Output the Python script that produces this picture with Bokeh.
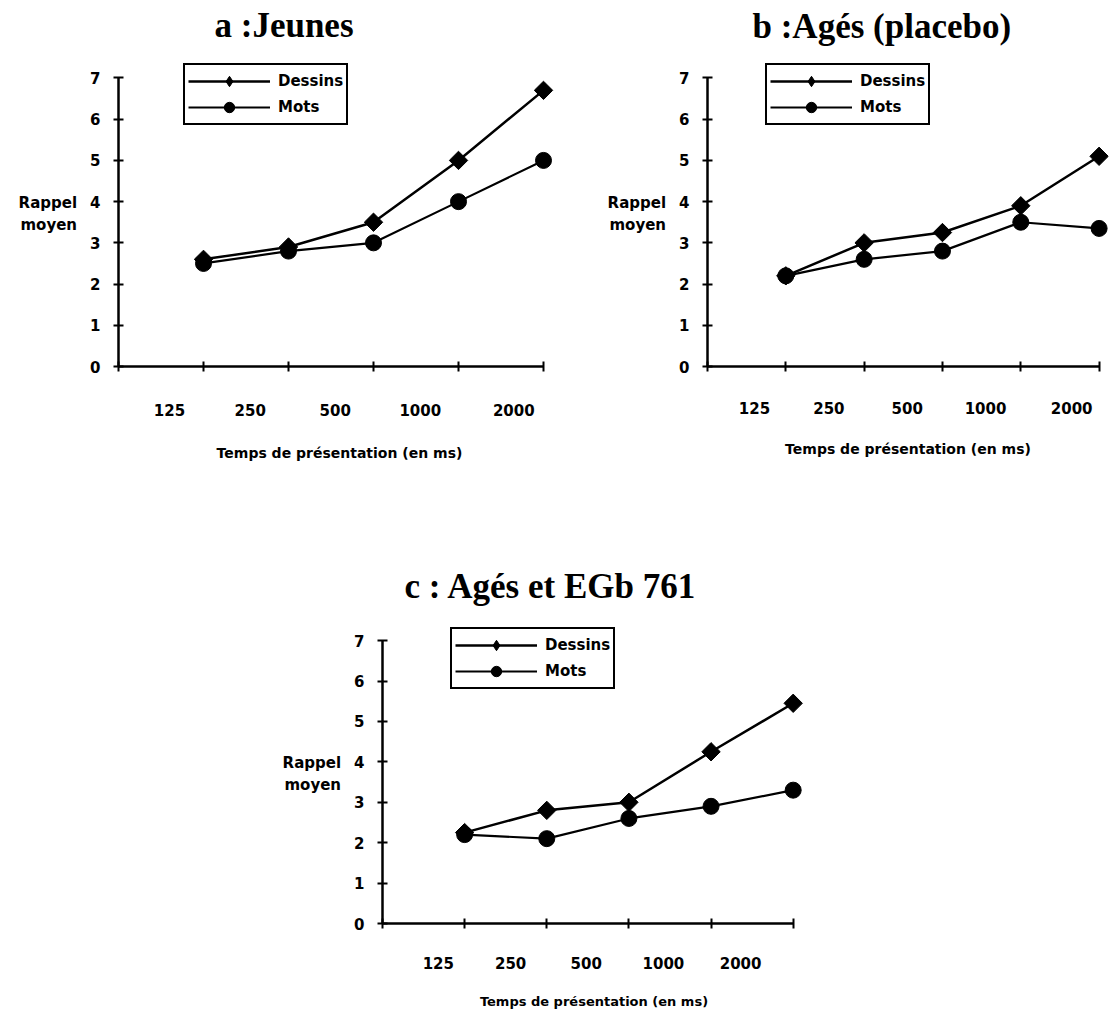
import math
from bokeh.plotting import figure
from bokeh.models import Range1d, FixedTicker, Spacer
from bokeh.layouts import column, row
from bokeh.embed import file_html
from bokeh.resources import INLINE

# ---------------- data ----------------
durations = ["125", "250", "500", "1000", "2000"]
series_names = ["Dessins", "Mots"]
titles = ["a :Jeunes", "b :Agés (placebo)", "c : Agés et EGb 761"]
y_title = "Rappel\nmoyen"
x_title = "Temps de présentation (en ms)"
y_ticks = [0, 1, 2, 3, 4, 5, 6, 7]

jeunes_dessins = [2.6, 2.9, 3.5, 5.0, 6.7]
jeunes_mots = [2.5, 2.8, 3.0, 4.0, 5.0]
placebo_dessins = [2.2, 3.0, 3.25, 3.9, 5.1]
placebo_mots = [2.2, 2.6, 2.8, 3.5, 3.35]
egb_dessins = [2.25, 2.8, 3.0, 4.25, 5.45]
egb_mots = [2.2, 2.1, 2.6, 2.9, 3.3]

x_idx = list(range(1, len(durations) + 1))
bounds_ticks = list(range(0, len(durations) + 1))

FONT = "DejaVu Sans"


def make_panel(title, dessins, mots, width, height, borders, x_end, y_end,
               label_pos, legend_xy, title_offset, title_standoff,
               xlab_standoff, xtitle_standoff, xtitle_size, margin):
    bl, br, bt, bb = borders
    p = figure(width=width, height=height, output_backend="svg",
               toolbar_location=None, x_range=Range1d(0, x_end),
               y_range=Range1d(0, y_end), min_border_left=bl,
               min_border_right=br, min_border_top=bt, min_border_bottom=bb,
               margin=margin)
    p.outline_line_color = None
    p.grid.visible = False
    p.background_fill_color = "white"

    # title
    p.title.text = title
    p.title.align = "left"
    p.title.offset = title_offset
    p.title.standoff = title_standoff
    p.title.text_font = "Liberation Serif"
    p.title.text_font_style = "bold"
    p.title.text_font_size = "35px"
    p.title.text_color = "black"

    # series
    p.line(x_idx, dessins, line_width=2.5, color="black", legend_label=series_names[0])
    p.scatter(x_idx, dessins, marker="diamond", size=14, color="black",
              legend_label=series_names[0])
    p.scatter(x_idx, dessins, marker="square", angle=math.pi / 4, size=13,
              color="black")
    p.line(x_idx, mots, line_width=2.2, color="black", legend_label=series_names[1])
    p.scatter(x_idx, mots, marker="circle", size=16, color="black",
              legend_label=series_names[1])

    # y axis
    ya = p.yaxis[0]
    ya.ticker = FixedTicker(ticks=y_ticks)
    ya.bounds = (0, 7)
    ya.axis_line_width = 2.5
    ya.axis_line_color = "black"
    ya.major_tick_in = 5
    ya.major_tick_out = 5
    ya.major_tick_line_width = 2
    ya.major_tick_line_color = "black"
    ya.minor_tick_line_color = None
    ya.major_label_standoff = 13
    ya.major_label_text_font = FONT
    ya.major_label_text_font_style = "bold"
    ya.major_label_text_font_size = "15px"
    ya.major_label_text_color = "black"
    ya.axis_label = y_title
    ya.axis_label_orientation = "horizontal"
    ya.axis_label_standoff = 10
    ya.axis_label_text_font = FONT
    ya.axis_label_text_font_style = "bold"
    ya.axis_label_text_font_size = "15px"
    ya.axis_label_text_color = "black"

    # x axis: duration labels sit between the tick marks
    xa = p.xaxis[0]
    xa.ticker = FixedTicker(ticks=label_pos, minor_ticks=bounds_ticks)
    xa.major_label_overrides = {pos: lab for pos, lab in zip(label_pos, durations)}
    xa.bounds = (0, len(durations))
    xa.axis_line_width = 2.5
    xa.axis_line_color = "black"
    xa.major_tick_line_color = None
    xa.major_tick_in = 0
    xa.major_tick_out = 0
    xa.minor_tick_in = 5
    xa.minor_tick_out = 5
    xa.minor_tick_line_color = "black"
    xa.minor_tick_line_width = 2
    xa.major_label_standoff = xlab_standoff
    xa.major_label_text_font = FONT
    xa.major_label_text_font_style = "bold"
    xa.major_label_text_font_size = "15px"
    xa.major_label_text_color = "black"
    xa.axis_label = x_title
    xa.axis_label_standoff = xtitle_standoff
    xa.axis_label_text_font = FONT
    xa.axis_label_text_font_style = "bold"
    xa.axis_label_text_font_size = xtitle_size
    xa.axis_label_text_color = "black"

    lg = p.legend[0]
    lg.location = legend_xy
    lg.margin = 0
    lg.padding = 3
    lg.spacing = 0
    lg.border_line_color = "black"
    lg.border_line_alpha = 1.0
    lg.border_line_width = 2
    lg.glyph_width = 82
    lg.glyph_height = 26
    lg.label_height = 26
    lg.label_standoff = 8
    lg.label_text_font = FONT
    lg.label_text_font_style = "bold"
    lg.label_text_font_size = "15px"
    lg.label_text_color = "black"
    lg.background_fill_alpha = 1.0
    return p


pa = make_panel(titles[0], jeunes_dessins, jeunes_mots, 600, 517,
                (118, 40, 91, 120), 5.2, 7.4,
                [0.6, 1.55, 2.55, 3.55, 4.65], (65, 241), 96, 33,
                32, 26, "14px", (-30, 0, 0, 0))
pb = make_panel(titles[1], placebo_dessins, placebo_mots, 514, 517,
                (107, 6, 88, 121), 5.12, 7.4,
                [0.6, 1.55, 2.55, 3.55, 4.65], (58, 241), 45, 31,
                30, 24, "14px", (-30, 0, 0, 0))
pc = make_panel(titles[2], egb_dessins, egb_mots, 555, 528,
                (112, 20, 137, 92), 5.15, 7.4,
                [0.68, 1.56, 2.48, 3.42, 4.36], (68, 234), 22, 38,
                28, 22, "13px", 0)

layout = column(row(pa, pb), row(Spacer(width=270, height=10), pc))
open("out.html", "w").write(file_html(layout, INLINE))
